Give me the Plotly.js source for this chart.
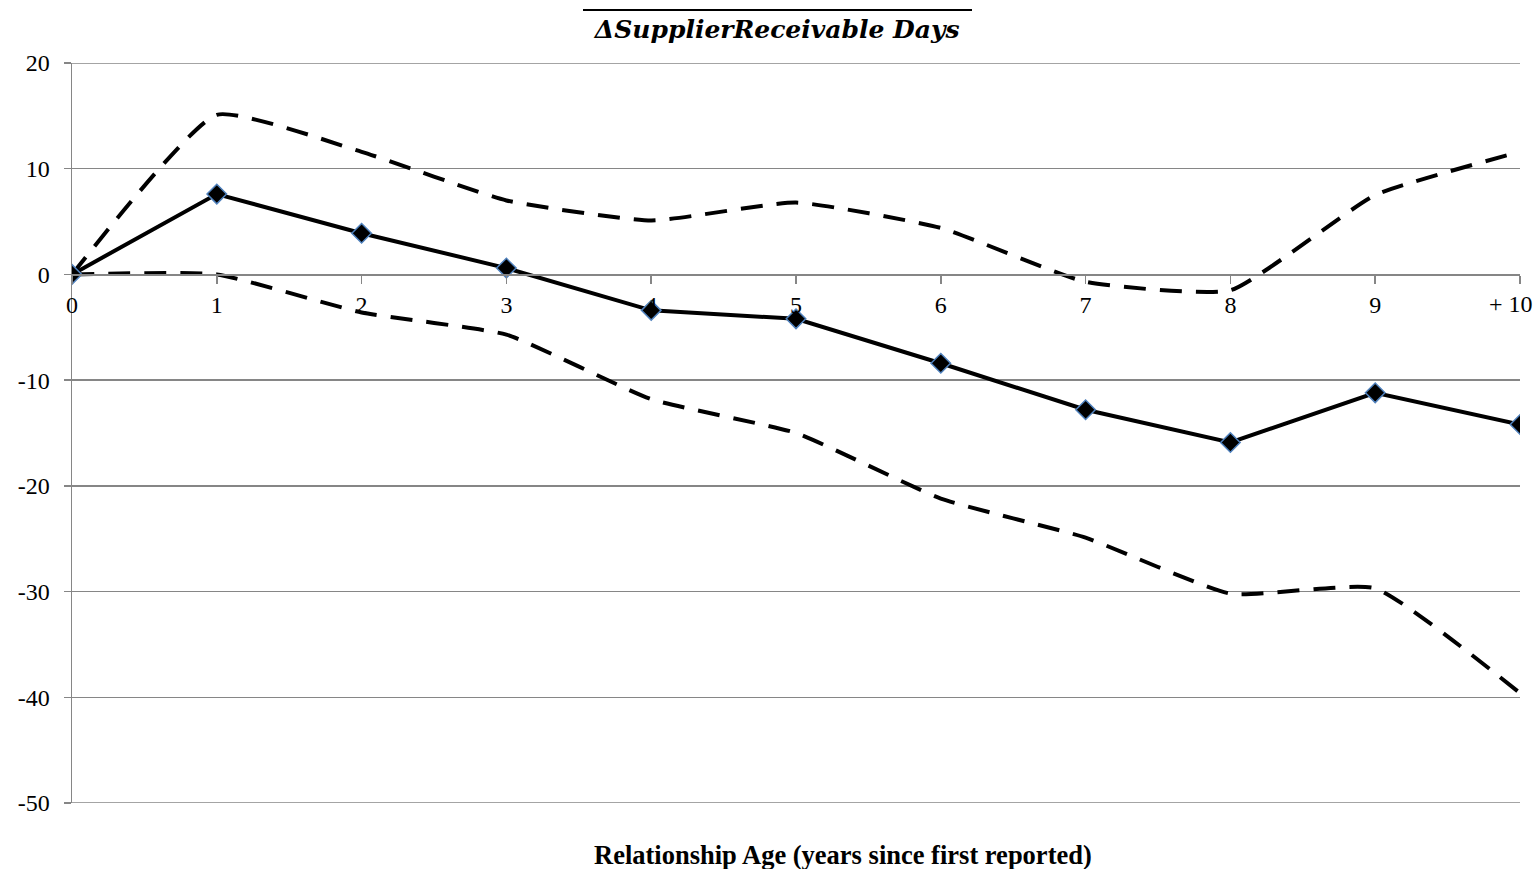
<!DOCTYPE html>
<html>
<head>
<meta charset="utf-8">
<script src="https://cdn.plot.ly/plotly-3.0.1.min.js"></script>
<style>html,body{margin:0;padding:0;background:#fff;}#chart{width:1539px;height:869px;}</style>
</head>
<body>
<div id="chart"></div>
<script>
const ages = [0, 1, 2, 3, 4, 5, 6, 7, 8, 9, 10];
const tickLabels = ["0", "1", "2", "3", "4", "5", "6", "7", "8", "9", "+ 10"];
const yTickVals = [-50, -40, -30, -20, -10, 0, 10, 20];
const yTickLabels = ["-50", "-40", "-30", "-20", "-10", "0", "10", "20"];
const meanDays = [0, 7.6, 3.9, 0.6, -3.4, -4.2, -8.4, -12.8, -15.9, -11.2, -14.2];
const upperBand = [0, 15.1, 11.6, 7.0, 5.1, 6.8, 4.4, -0.7, -1.5, 7.5, 11.6];
const lowerBand = [0, 0, -3.6, -5.7, -11.8, -15.0, -21.2, -24.9, -30.2, -29.7, -39.6];

const dashLine = {color: "#000", width: 4, dash: "22px,14px", shape: "spline", smoothing: 0.45};
const traces = [
  {x: ages, y: upperBand, type: "scatter", mode: "lines", line: dashLine, hoverinfo: "skip"},
  {x: ages, y: lowerBand, type: "scatter", mode: "lines", line: dashLine, hoverinfo: "skip"},
  {x: ages, y: meanDays, type: "scatter", mode: "lines+markers",
   line: {color: "#000", width: 4},
   marker: {symbol: "diamond", size: 15, color: "#000", line: {color: "#4f81bd", width: 1.5}}}
];

const gridShape = v => ({type: "line", xref: "paper", yref: "y", x0: 0, x1: 1, y0: v, y1: v,
                         line: {color: "#868686", width: 1.5}, layer: "below"});

// last category label is drawn as an annotation so it stays inside the page
const axisTickText = tickLabels.map((t, i) => i === tickLabels.length - 1 ? "" : t);

const layout = {
  width: 1539, height: 869,
  margin: {l: 72, r: 19, t: 63, b: 66},
  paper_bgcolor: "#fff", plot_bgcolor: "#fff",
  showlegend: false,
  font: {family: "Liberation Serif, Times New Roman, serif", color: "#000", size: 24},
  title: {text: "ΔSupplierReceivable Days", x: 0.505, xanchor: "center", y: 0.966, yanchor: "middle",
          font: {family: "DejaVu Serif, serif", size: 25, weight: "bold", style: "italic", color: "#000"}},
  xaxis: {
    range: [0, 10], tickvals: ages, ticktext: axisTickText,
    anchor: "free", position: 50 / 70,
    showgrid: false, zeroline: false,
    showline: true, linecolor: "#868686", linewidth: 1.5,
    ticks: "outside", ticklen: 8, tickcolor: "#868686", tickwidth: 1.5,
    tickfont: {size: 24, family: "Liberation Serif, serif", color: "#000"},
    fixedrange: true
  },
  yaxis: {
    range: [-50, 20], tickvals: yTickVals, ticktext: yTickLabels,
    showgrid: true, gridcolor: "#868686", gridwidth: 1.5,
    zeroline: false,
    showline: true, linecolor: "#868686", linewidth: 1.5,
    ticks: "outside", ticklen: 7, tickcolor: "#868686", tickwidth: 1.5, ticklabelstandoff: 9,
    tickfont: {size: 24, family: "Liberation Serif, serif", color: "#000"},
    fixedrange: true
  },
  shapes: [
    gridShape(20), gridShape(-50),
    {type: "line", xref: "paper", yref: "paper", x0: (583 - 72) / 1448, x1: (972 - 72) / 1448,
     y0: (803 - 10) / 740, y1: (803 - 10) / 740, line: {color: "#000", width: 2}}
  ],
  annotations: [
    {text: tickLabels[tickLabels.length - 1], xref: "paper", yref: "paper",
     x: (1535 - 72) / 1448, xanchor: "right", y: (803 - 304) / 740, yanchor: "middle", showarrow: false,
     font: {size: 24, family: "Liberation Serif, serif", color: "#000"}},
    {text: "<b>Relationship Age (years since first reported)</b>", xref: "paper", yref: "paper",
     x: (843 - 72) / 1448, xanchor: "center", y: -(855 - 803) / 740, yanchor: "middle", showarrow: false,
     font: {size: 26.5, family: "Liberation Serif, serif", color: "#000"}}
  ]
};

Plotly.newPlot("chart", traces, layout, {displayModeBar: false, staticPlot: true});
</script>
</body>
</html>
